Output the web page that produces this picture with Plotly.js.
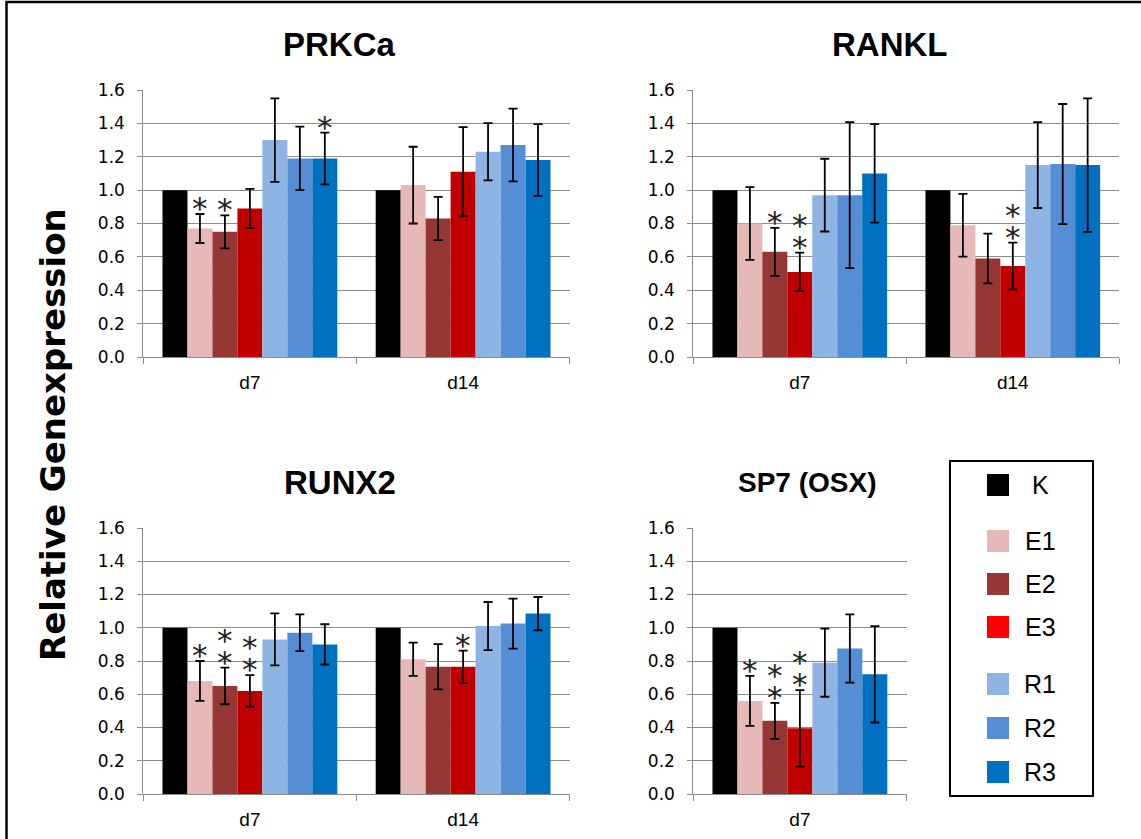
<!DOCTYPE html>
<html>
<head>
<meta charset="utf-8">
<script src="https://cdn.plot.ly/plotly-3.0.1.min.js"></script>
<style>
  html, body { margin: 0; padding: 0; background: #fff; }
  #chart { width: 1141px; height: 839px; }
</style>
</head>
<body>
<div id="chart"></div>
<script>
// Treatment groups and time points
const groups = ['K', 'E1', 'E2', 'E3', 'R1', 'R2', 'R3'];
const days = ['d7', 'd14'];

// Relative expression (mean) and error per group, for each gene and day
const prkcaD7     = [1.00, 0.77, 0.75, 0.89, 1.30, 1.19, 1.19];
const prkcaD7Err  = [null, 0.087, 0.099, 0.118, 0.25, 0.19, 0.155];
const prkcaD14    = [1.00, 1.03, 0.83, 1.11, 1.23, 1.27, 1.18];
const prkcaD14Err = [null, 0.23, 0.13, 0.267, 0.172, 0.218, 0.215];

const ranklD7     = [1.00, 0.80, 0.63, 0.51, 0.97, 0.97, 1.10];
const ranklD7Err  = [null, 0.218, 0.144, 0.115, 0.218, 0.438, 0.295];
const ranklD14    = [1.00, 0.79, 0.59, 0.545, 1.15, 1.156, 1.15];
const ranklD14Err = [null, 0.188, 0.149, 0.14, 0.257, 0.36, 0.40];

const runx2D7     = [1.00, 0.68, 0.65, 0.62, 0.93, 0.97, 0.90];
const runx2D7Err  = [null, 0.12, 0.11, 0.095, 0.156, 0.11, 0.121];
const runx2D14    = [1.00, 0.81, 0.765, 0.765, 1.01, 1.025, 1.085];
const runx2D14Err = [null, 0.10, 0.136, 0.098, 0.145, 0.15, 0.10];

const sp7D7       = [1.00, 0.56, 0.44, 0.395, 0.79, 0.875, 0.72];
const sp7D7Err    = [null, 0.15, 0.108, 0.23, 0.205, 0.205, 0.29];

// Significance marks: [day, group, number of asterisks]
const prkcaStars = [['d7', 'E1', 1], ['d7', 'E2', 1], ['d7', 'R3', 1]];
const ranklStars = [['d7', 'E2', 1], ['d7', 'E3', 2], ['d14', 'E3', 2]];
const runx2Stars = [['d7', 'E1', 1], ['d7', 'E2', 2], ['d7', 'E3', 2], ['d14', 'E3', 1]];
const sp7Stars   = [['d7', 'E1', 1], ['d7', 'E2', 2], ['d7', 'E3', 2]];

// Styling
const barColors    = ['#000000', '#E6B9B8', '#953735', '#C00000', '#8EB4E3', '#558ED5', '#0070C0'];
const swatchColors = ['#000000', '#E6B9B8', '#953735', '#FF0000', '#8EB4E3', '#558ED5', '#0070C0'];
const gridGray = '#8c8c8c';
const W = 1141, H = 839;
const BARGAP = 0.18;
const SANS = 'Liberation Sans, Arial, sans-serif';

const px = v => v / W;
const py = v => 1 - v / H;

// Panel definitions (plot-area boxes in pixels)
const panels = [
  { title: 'PRKCa', days: days, means: [prkcaD7, prkcaD14], errs: [prkcaD7Err, prkcaD14Err], stars: prkcaStars,
    box: [143.3, 569.7, 90, 357], titlePos: [339, 45], titleSize: 33 },
  { title: 'RANKL', days: days, means: [ranklD7, ranklD14], errs: [ranklD7Err, ranklD14Err], stars: ranklStars,
    box: [693.3, 1119.3, 90, 357], titlePos: [889, 45], titleSize: 33 },
  { title: 'RUNX2', days: days, means: [runx2D7, runx2D14], errs: [runx2D7Err, runx2D14Err], stars: runx2Stars,
    box: [143.3, 569.7, 528, 794], titlePos: [340, 482], titleSize: 33 },
  { title: 'SP7 (OSX)', days: ['d7'], means: [sp7D7], errs: [sp7D7Err], stars: sp7Stars,
    box: [693.3, 906.5, 528, 794], titlePos: [807, 482], titleSize: 28 }
];

const traces = [];
const annotations = [];
const shapes = [];
const layout = {
  width: W, height: H,
  margin: { l: 0, r: 0, t: 0, b: 0 },
  paper_bgcolor: '#fff', plot_bgcolor: '#fff',
  barmode: 'group', bargap: BARGAP, bargroupgap: 0,
  showlegend: false,
  font: { family: SANS, color: '#000' }
};

const barW = (1 - BARGAP) / groups.length;

panels.forEach((p, k) => {
  const sfx = k === 0 ? '' : String(k + 1);
  const xa = 'x' + sfx, ya = 'y' + sfx;

  groups.forEach((g, i) => {
    const errArr = p.errs.map(a => a[i]);
    const hasErr = errArr.some(v => v !== null);
    traces.push({
      type: 'bar', name: g,
      x: p.days, y: p.means.map(a => a[i]),
      xaxis: xa, yaxis: ya,
      marker: { color: barColors[i], line: { width: 0 } },
      error_y: { type: 'data', array: errArr.map(v => v === null ? 0 : v), visible: hasErr,
                 color: '#000', thickness: 1.8, width: 4.5 },
      hoverinfo: 'x+y+name'
    });
  });

  layout['xaxis' + sfx] = {
    domain: [px(p.box[0]), px(p.box[1])], anchor: ya,
    type: 'category', tickson: 'boundaries',
    ticks: 'outside', ticklen: 6, tickcolor: gridGray, tickwidth: 1,
    showline: true, linecolor: gridGray, linewidth: 1,
    showgrid: false, zeroline: false, fixedrange: true, ticklabelstandoff: 8,
    tickfont: { family: SANS, size: 19, color: '#000' }
  };
  layout['yaxis' + sfx] = {
    domain: [py(p.box[3]), py(p.box[2])], anchor: xa,
    range: [0, 1.6], dtick: 0.2, tickformat: '.1f',
    showgrid: true, gridcolor: gridGray, gridwidth: 1,
    showline: true, linecolor: gridGray, linewidth: 1,
    ticks: 'outside', ticklen: 5, tickcolor: gridGray,
    zeroline: false, fixedrange: true, ticklabelstandoff: 9,
    tickfont: { family: 'DejaVu Sans, sans-serif', size: 17, color: '#000' }
  };

  // Panel title
  annotations.push({
    xref: 'paper', yref: 'paper', x: px(p.titlePos[0]), y: py(p.titlePos[1]),
    xanchor: 'center', yanchor: 'middle', showarrow: false,
    text: '<b>' + p.title + '</b>',
    font: { family: SANS, size: p.titleSize, color: '#000' }
  });

  // Significance asterisks above the error bars
  p.stars.forEach(([day, g, n]) => {
    const di = p.days.indexOf(day);
    const gi = groups.indexOf(g);
    const top = p.means[di][gi] + (p.errs[di][gi] || 0);
    for (let j = 0; j < n; j++) {
      annotations.push({
        xref: xa, yref: ya, x: di + (gi - (groups.length - 1) / 2) * barW, y: top,
        xanchor: 'center', yanchor: 'bottom', yshift: -14 + j * 22,
        showarrow: false, text: '*',
        font: { family: 'DejaVu Sans, sans-serif', size: 31, color: '#222' }
      });
    }
  });
});

// Shared y-axis title
annotations.push({
  xref: 'paper', yref: 'paper', x: px(53), y: py(435),
  xanchor: 'center', yanchor: 'middle', showarrow: false, textangle: -90,
  text: '<b>Relative Genexpression</b>',
  font: { family: 'DejaVu Sans, sans-serif', size: 34, color: '#000' }
});

// Outer frame
shapes.push({ type: 'rect', xref: 'paper', yref: 'paper',
  x0: px(6.5), x1: px(W + 10), y0: py(H + 10), y1: py(2),
  line: { color: '#000', width: 2.5 }, fillcolor: 'rgba(0,0,0,0)' });

// Legend box with swatches
shapes.push({ type: 'rect', xref: 'paper', yref: 'paper',
  x0: px(950), x1: px(1093), y0: py(796), y1: py(461),
  line: { color: '#000', width: 2 }, fillcolor: 'rgba(0,0,0,0)' });
const legendRows = [485, 541, 584, 627, 684, 728, 772];
groups.forEach((g, i) => {
  const cy = legendRows[i];
  shapes.push({ type: 'rect', xref: 'paper', yref: 'paper',
    x0: px(987), x1: px(1009), y0: py(cy + 11), y1: py(cy - 11),
    line: { width: 0 }, fillcolor: swatchColors[i] });
  annotations.push({
    xref: 'paper', yref: 'paper', x: px(1040), y: py(cy),
    xanchor: 'center', yanchor: 'middle', showarrow: false, text: g,
    font: { family: SANS, size: 25, color: '#000' }
  });
});

layout.annotations = annotations;
layout.shapes = shapes;

Plotly.newPlot('chart', traces, layout, { displayModeBar: false, staticPlot: true });
</script>
</body>
</html>
